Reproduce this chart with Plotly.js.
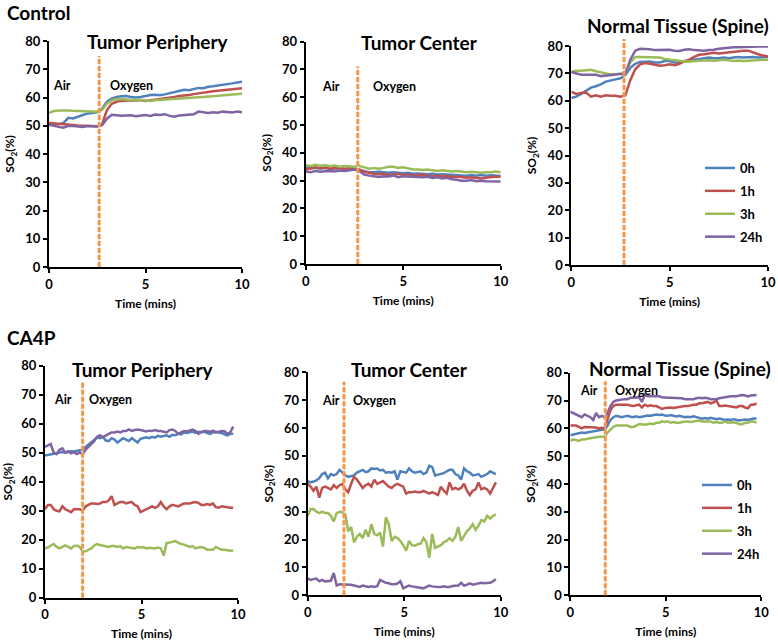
<!DOCTYPE html>
<html><head><meta charset="utf-8">
<script src="https://cdn.plot.ly/plotly-3.0.1.min.js"></script>
<style>html,body{margin:0;padding:0;background:#fff}#chart{width:778px;height:641px}</style>
</head><body><div id="chart"></div>
<script>
const seriesNames = ['0h', '1h', '3h', '24h'];
const seriesColors = ['#4F81BD', '#C0504D', '#9BBB59', '#8064A2'];
const panelTitles = ['Tumor Periphery', 'Tumor Center', 'Normal Tissue (Spine)', 'Tumor Periphery', 'Tumor Center', 'Normal Tissue (Spine)'];
const groupLabels = ['Control', 'CA4P'];
const phaseLabels = ['Air', 'Oxygen'];
const xTickVals = [0, 5, 10];
const yTickVals = [0, 10, 20, 30, 40, 50, 60, 70, 80];
const switchTime = [2.6, 2.67, 2.68, 1.95, 1.88, 1.83];

const timeControl = [0,0.25,0.5,0.75,1,1.25,1.5,1.75,2,2.25,2.5,2.75,3,3.25,3.5,3.75,4,4.25,4.5,4.75,5,5.25,5.5,5.75,6,6.25,6.5,6.75,7,7.25,7.5,7.75,8,8.25,8.5,8.75,9,9.25,9.5,9.75,10];
const timeCA4P = [0,0.15,0.3,0.45,0.6,0.75,0.9,1.05,1.2,1.35,1.5,1.65,1.8,1.95,2.1,2.25,2.4,2.55,2.7,2.85,3,3.15,3.3,3.45,3.6,3.75,3.9,4.05,4.2,4.35,4.5,4.65,4.8,4.95,5.1,5.25,5.4,5.55,5.7,5.85,6,6.15,6.3,6.45,6.6,6.75,6.9,7.05,7.2,7.35,7.5,7.65,7.8,7.95,8.1,8.25,8.4,8.55,8.7,8.85,9,9.15,9.3,9.45,9.6,9.75];

// Control - Tumor Periphery
const ctrlTP_0h = [50.8,50.6,50.5,51,52.8,52.6,53.3,53.8,54.3,54.6,54.8,56,58.5,59.6,60.2,60.4,60.5,60.2,60,60.2,60.6,60.9,61,60.8,61.1,61.5,61.9,62.4,62.7,62.6,63.1,63.4,63.3,63.8,64,64.2,64.5,64.6,65,65.3,65.6];
const ctrlTP_1h = [51,50.9,50.8,50.6,50.5,50.3,50.1,50,49.9,49.8,49.8,50.5,55.5,57.8,58.5,58.8,59,59,58.9,59.1,58.8,59,59.2,59.4,59.6,59.9,60.2,60.5,60.6,60.9,61.2,61.5,61.6,61.9,62.2,62.4,62.6,62.8,63,63.2,63.3];
const ctrlTP_3h = [54.6,55.2,55.4,55.5,55.4,55.3,55.2,55.1,55.2,55,55,55.6,57.8,59,59.4,59.5,59.3,59.2,59,59.1,58.9,58.8,59,59.1,59.2,59.3,59.4,59.6,59.8,59.7,59.8,60,60.1,60.2,60.4,60.6,60.7,60.8,61,61.2,61.3];
const ctrlTP_24h = [50.4,49.9,49.6,49.3,50,49.9,49.8,49.6,49.9,49.8,49.7,50.2,52.5,53.9,53.7,53.5,53.6,53.7,53.4,53.6,53.8,53.5,54,53.8,54.1,53.5,53.2,53.6,53.8,54,54.1,55,54.7,54.5,54.8,54.6,55,54.8,54.7,55,54.8];

// Control - Tumor Center
const ctrlTC_0h = [34.8,34.5,34.6,34.3,34.5,34.2,34.4,34.5,34.3,34.4,34.2,33.8,33.2,33,33,33.2,33,32.8,33,32.8,32.7,32.8,32.5,32.6,32.5,32.3,32.5,32.2,32.3,32.2,32,32.1,32,31.8,32,31.8,32,31.8,31.9,31.8,31.7];
const ctrlTC_1h = [34,34.5,34.8,34.5,34.8,34.3,34.6,34.5,34.2,34.5,34.3,34,33.2,32.8,32.5,32.3,32.5,32,32.3,32.5,32,32.3,31.8,32,32.2,31.8,31.5,31.8,31.5,31.7,31.3,31.5,31.2,31,31.2,31,30.8,31,31.2,31.5,31.3];
const ctrlTC_3h = [35.5,35.3,35.7,35.4,35.5,35.2,35.4,35,35.3,35.2,35,35.3,34.8,34.3,34.5,34.3,34.6,35,35,34.6,34.8,34.3,34,34,33.8,34,33.8,33.5,33.7,33.5,33.3,33.5,33.3,33,33.2,33,32.8,33,33,33.3,33];
const ctrlTC_24h = [33.3,33,33.5,33.2,33.4,33.5,33.3,33.6,33.5,33.8,34,33.5,32.2,31.8,31.5,31.3,31.6,31.5,31.8,31.2,31.6,31.5,31.5,31.3,31.2,31.4,31,31.2,30.8,31,30.5,30.3,30,30,30.2,29.8,30,29.8,29.7,29.8,29.7];

// Control - Normal Tissue (Spine)
const ctrlNT_0h = [61,61.5,62.5,63.5,64.8,65.3,66,67,67.3,67.8,68.2,69.5,72,73.5,74.2,74.3,74.3,74,74,74.5,74.5,74,74,74.3,74.5,75,75.3,75.5,75.8,75.5,75.5,75.8,75.5,75.8,76,75.8,76,76,75.8,76,76];
const ctrlNT_1h = [63.3,62.5,62.8,63,61.5,62,61.5,62,61.8,61.8,61.5,62,67.5,71.5,73.3,73.8,73.5,73.2,72.8,73,73.3,73,73.5,74.5,75,76,76.8,77,77.2,77.5,77.3,77.5,77.8,78,78.2,78.3,78.3,77.5,77,76.5,76.2];
const ctrlNT_3h = [70.5,71,71,71.2,71.3,70.8,70.5,70,69.6,69.8,69.8,70,74,76,76,76,76,75.8,75.8,75.3,75,74.7,74.5,74.3,74.3,74.5,74.5,74.7,74.8,74.6,74.8,75,74.8,74.5,74.7,74.5,74.6,74.8,75,75,75];
const ctrlNT_24h = [70.5,70,69.5,69.5,69.5,69.5,69,69.2,69.3,69.5,69.8,70,75,78.3,79,79,78.8,78.5,78.5,78.6,78.6,78.3,78.2,78.6,78.8,78.5,78.3,78.3,78.5,78.6,79,79.2,79.3,79.5,79.5,79.6,79.8,79.8,79.8,79.8,79.8];

// CA4P - Tumor Periphery
const caTP_0h = [49,49.2,49.3,49.6,49.8,50,50.2,50,50.3,50.5,50.4,50.6,50.8,51,52,52.8,53.5,54.5,55.2,55,55.5,54.2,54,55,54.5,53.5,54.3,55,54.5,54,55,54.2,53.5,54.8,55,55.3,55,55.5,55.2,55.8,55.5,55.7,56,55.5,56.2,56,56.5,56.3,57,56.8,57,57.3,56.8,57.2,57,57.3,56.8,56.5,57,57.2,57,56.8,56.3,56,56.5,56.5];
const caTP_1h = [30.5,32,32,30.5,30,29.8,31.5,30.5,30,29.5,30.5,30.5,30.5,30,31.5,32,32.5,32.5,32.3,32.5,33,33,33.5,35,32,32.5,33,33,32.5,32.8,33,32,31.5,29.5,30,30.5,31,31.5,31,31.5,33,31.5,30.5,31.5,32,31.8,31.5,32,32.5,32.5,32.5,32.8,33,32.7,32,32,32.3,32,32.5,31.2,31,31.5,31.3,31,31,31];
const caTP_3h = [17,17.3,18,18.5,17.5,17,17.5,18,17.5,17,17.8,18,17.5,16,16,16.5,17,18,18.5,18.2,18,17.7,17.5,17.8,17.8,17.5,17.8,17,17.5,17.3,17.2,17,17.5,17.3,17.5,17,17.2,17,17,17.3,17,14.5,18.8,19,19.3,19.5,19,18.5,18.3,18,17.5,17.8,17,17.3,17.5,17.2,16.5,16.5,16.5,17.5,17,16.5,16.5,16.3,16.2,16.3];
const caTP_24h = [52,52.5,53,50,49.5,51,51.5,50,50.5,49.8,50.2,49.5,50,49.5,51,52,53,54,55.5,56,55.3,56,56.5,57,57,57.3,57,57.5,57.5,58,57.5,57.8,58,57.8,57.5,57.3,57.6,57.5,57.8,57.5,57.5,57.2,57,57.8,58,57.5,56.5,57,57.5,57.3,57.6,58,57.5,56.5,57.2,57.5,57.5,57.2,57.6,57,57.2,57.5,57.4,56.5,57,59];

// CA4P - Tumor Center
const caTC_0h = [41,40.5,40.8,41.2,42,43.5,44,42,43.5,43,43.5,45,44,43,42.5,42.8,43,44,44.5,45,44.2,44.5,45.5,45.3,45.5,44.8,45,44,44.2,44,44.5,41.5,44.5,44.3,44,45.5,44.5,44,44.2,44.5,43.5,44,46.5,46,43,43.2,43.5,43.8,44.5,45,45,43.5,43,41.5,45.5,44.5,44,43,43.2,43.5,42.5,43,43.5,44.5,44,43.5];
const caTC_1h = [40,39,37.5,39,35,38.5,39,38.5,38,39.5,38.5,39.5,40,38,37,40,42.5,41.5,40,38.5,39.5,40,39,41.5,40,40.5,41,40,39,38.5,39.5,40,39.5,39,36.5,37,37,37.2,37,37,37.5,37,36.5,37,36.5,36,39,37.5,36.5,40.5,38,38.5,38,38.5,40,37.5,36,37.5,38,40.5,38,38.5,38,36.5,38.5,40.5];
const caTC_3h = [28.5,31,31,30,29.5,30,29.5,29.5,28.5,26.5,29.5,30,29.8,29,23,24.5,19,21,22,20.5,23.5,21,25.5,22,21.5,22.5,17.5,28,25.5,19.5,21,20.5,19.5,18,16,19.5,18,17.8,18.3,18.5,20.5,19,13.5,22,17,17.5,18,19,19.5,20.5,19.5,21,24.5,19.5,21.5,23,24,25.5,23.5,25,27,26.5,28.5,27.5,28.5,29];
const caTC_24h = [6,5.5,5.8,6,5,5.5,5,5,5.2,8,3.5,4,4,3.8,4,3.8,3.5,3.2,3,3.5,3.3,3,3.2,3,3.3,5.5,5,4.5,4.3,4,4,4.2,5,2.5,3,3.5,3.2,3,3,2.8,2.5,3,3.5,3.2,3,3,3,3.2,3,3,3.3,3.3,3.5,4.5,3.5,3.8,4.3,3.8,4,4.2,4.5,4.3,4.5,4.5,5,5.8];

// CA4P - Normal Tissue (Spine)
const caNT_0h = [57.5,57.8,58,58.3,58.5,58.3,58.5,58.8,59,59.2,59.3,59.5,59.5,61,63,64,64.5,64.3,64,64.3,64.5,64.2,64,64.3,64,64.2,64.5,64.6,64.5,64.8,65,64.8,65,64.6,64.5,64.8,64.5,64.3,64.5,64.2,64,64.2,64,64.3,64,63.8,63.5,63.7,63.5,63.8,63.5,63.3,63.5,63.2,63,63.2,63,63.3,63,62.8,63,63.2,63,63.3,63.5,63.5];
const caNT_1h = [61,61,61,60.5,60,60.5,60.5,60.3,60.5,60.3,60,60.2,60,63,66.5,68,68.5,68.5,68.5,68.3,68.5,68.2,68,68.3,68.5,67.5,68.5,68,68.3,68,68,67.5,67,67.3,67.5,67.5,67.3,67.5,67.5,67.8,68,68,68.3,68.5,68.5,69,69,69.3,69.5,69,69.3,70,68,68,68.2,68,67.8,67.5,67.5,68,68,67.5,67.2,68.5,68.5,69];
const caNT_3h = [55.5,56,55.8,55.5,56,56,56.3,56.5,56.8,57,57,57,57,58.5,59.5,60.5,61,61,61,60.8,61,60.5,60.5,61,61.5,61.5,61.3,61.5,61.7,61.5,62,62,62.5,62.3,62.5,62,62.3,62,62,62.3,62.5,62.5,62.3,62.5,62.5,62.8,62.5,62.5,62.3,62.5,62,62.3,62,62,62.5,62,62.2,62,62,61.5,61.5,62,62,62.5,62.5,62];
const caNT_24h = [66,65.5,64.8,64.5,64,65,64.5,64,63,65.5,64,64.5,64,65.5,68,69.5,70,70.2,70.5,70.5,70.5,71,71,71,71.2,69.5,72,71.5,71.5,71.5,71.5,71.5,71.2,71,71,71,71,70.8,71,70.8,70.5,70.5,70.5,70.5,70.8,71,70.8,71,70.8,70.5,70.5,70.5,70.8,71,71,71.2,71.5,71.5,71.5,71.8,72,71.8,71.5,71.8,72,72];

const panels = [
  {time: timeControl, data: [ctrlTP_0h, ctrlTP_1h, ctrlTP_3h, ctrlTP_24h]},
  {time: timeControl, data: [ctrlTC_0h, ctrlTC_1h, ctrlTC_3h, ctrlTC_24h]},
  {time: timeControl, data: [ctrlNT_0h, ctrlNT_1h, ctrlNT_3h, ctrlNT_24h]},
  {time: timeCA4P, data: [caTP_0h, caTP_1h, caTP_3h, caTP_24h]},
  {time: timeCA4P, data: [caTC_0h, caTC_1h, caTC_3h, caTC_24h]},
  {time: timeCA4P, data: [caNT_0h, caNT_1h, caNT_3h, caNT_24h]}
];

// ---- layout geometry (pixels) ----
const W = 778, H = 641;
const boxes = [
  {l: 49, r: 242, t: 41, b: 267},
  {l: 305.7, r: 500.7, t: 41.7, b: 264},
  {l: 571.3, r: 768, t: 46, b: 265},
  {l: 45, r: 238, t: 365.7, b: 597.7},
  {l: 307.7, r: 500.7, t: 372.3, b: 595.3},
  {l: 570.3, r: 761.3, t: 372.7, b: 595.3}
];
const titlePos = [[158, 42], [419, 43], [678, 25], [143, 370], [409, 369], [680, 368]];
const lineTopFrac = [0.934, 0.888, 1.032, 0.931, 0.958, 0.96];
const airPos = [[0.1, 64.4], [0.73, 63.7], [0.75, 81.6], [0.36, 68.5], [0.64, 70], [0.4, 73.5]];
const oxyPos = [[3.04, 64.4], [3.35, 63.7], [3.19, 81.6], [2.18, 68.5], [2.23, 70], [2.24, 73.5]];

const FONT = 'Lato, "Open Sans", sans-serif';
const traces = [];
const legendCommon = {xanchor: 'left', yanchor: 'top', bgcolor: 'rgba(0,0,0,0)',
  font: {family: FONT, size: 13, weight: 'bold', color: '#000'}, tracegroupgap: 3};
const layout = {
  width: W, height: H,
  margin: {l: 0, r: 0, t: 0, b: 0},
  paper_bgcolor: '#fff', plot_bgcolor: 'rgba(0,0,0,0)',
  font: {family: FONT, color: '#000'},
  shapes: [], annotations: [],
  legend: Object.assign({x: 700 / W, y: 1 - 153 / H}, legendCommon),
  legend2: Object.assign({x: 697 / W, y: 1 - 470 / H}, legendCommon)
};

panels.forEach((p, i) => {
  const n = i + 1;
  const xa = n === 1 ? 'x' : 'x' + n, ya = n === 1 ? 'y' : 'y' + n;
  const xk = n === 1 ? 'xaxis' : 'xaxis' + n, yk = n === 1 ? 'yaxis' : 'yaxis' + n;
  const bx = boxes[i];
  p.data.forEach((vals, s) => {
    const showLeg = (i === 2 || i === 5);
    traces.push({
      type: 'scatter', mode: 'lines', x: p.time, y: vals, name: seriesNames[s],
      line: {color: seriesColors[s], width: 2.5}, xaxis: xa, yaxis: ya,
      showlegend: showLeg, legend: i === 5 ? 'legend2' : 'legend', legendgroup: 'g' + i + '_' + s,
      hoverinfo: 'skip'
    });
  });
  layout[xk] = {
    domain: [bx.l / W, bx.r / W], anchor: ya, range: [0, 10], tickvals: xTickVals,
    ticks: 'outside', ticklen: 4, tickwidth: 2, tickcolor: '#000',
    showline: true, linewidth: 2, linecolor: '#000', showgrid: false, zeroline: false,
    tickfont: {family: FONT, size: 13, weight: 'bold'},
    title: {text: '<b>Time (mins)</b>', font: {family: FONT, size: 12}, standoff: 9}
  };
  layout[yk] = {
    domain: [1 - bx.b / H, 1 - bx.t / H], anchor: xa, range: [0, 80], tickvals: yTickVals,
    ticks: 'outside', ticklen: 4, tickwidth: 2, tickcolor: '#000',
    showline: true, linewidth: 2, linecolor: '#000', showgrid: false, zeroline: false,
    tickfont: {family: FONT, size: 13, weight: 'bold'},
    title: {text: '<b>SO<sub>2</sub>(%)</b>', font: {family: FONT, size: 12}, standoff: 8}
  };
  const xf = switchTime[i] / 10;
  layout.shapes.push({type: 'line', xref: xa + ' domain', yref: ya + ' domain', x0: xf, x1: xf, y0: 0, y1: lineTopFrac[i],
    line: {color: '#DADADA', width: 1.2}, layer: 'above'});
  layout.shapes.push({type: 'line', xref: xa + ' domain', yref: ya + ' domain', x0: xf, x1: xf, y0: 0, y1: lineTopFrac[i],
    line: {color: '#F79646', width: 3, dash: '5px,2px'}, layer: 'above'});
  layout.annotations.push({text: '<b>' + panelTitles[i] + '</b>', xref: 'paper', yref: 'paper',
    x: titlePos[i][0] / W, y: 1 - titlePos[i][1] / H, xanchor: 'center', yanchor: 'middle', showarrow: false,
    font: {family: FONT, size: 19, color: '#000'}});
  layout.annotations.push({text: '<b>' + phaseLabels[0] + '</b>', xref: xa, yref: ya, x: airPos[i][0], y: airPos[i][1],
    xanchor: 'left', yanchor: 'middle', showarrow: false, font: {family: FONT, size: 12.5}});
  layout.annotations.push({text: '<b>' + phaseLabels[1] + '</b>', xref: xa, yref: ya, x: oxyPos[i][0], y: oxyPos[i][1],
    xanchor: 'left', yanchor: 'middle', showarrow: false, font: {family: FONT, size: 12.5}});
});

layout.annotations.push({text: '<b>' + groupLabels[0] + '</b>', xref: 'paper', yref: 'paper', x: 5 / W, y: 1 - 13 / H,
  xanchor: 'left', yanchor: 'middle', showarrow: false, font: {family: FONT, size: 19}});
layout.annotations.push({text: '<b>' + groupLabels[1] + '</b>', xref: 'paper', yref: 'paper', x: 5 / W, y: 1 - 337.5 / H,
  xanchor: 'left', yanchor: 'middle', showarrow: false, font: {family: FONT, size: 19}});

Plotly.newPlot('chart', traces, layout, {staticPlot: true, displayModeBar: false});
</script>
</body></html>
